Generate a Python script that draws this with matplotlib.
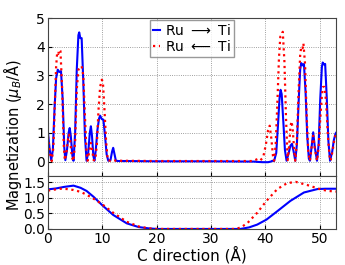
import numpy as np
import matplotlib
matplotlib.use('Agg')
import matplotlib.pyplot as plt

# magnetization along C
# top panel: Ru -> Ti (blue)
x_fwd = [0.0, 0.3, 0.6, 0.9, 1.2, 1.5, 1.8, 2.1, 2.4, 2.7, 3.0, 3.2, 3.5, 3.8, 4.0, 4.2,
         4.5, 4.7, 5.0, 5.3, 5.6, 5.75, 5.95, 6.2, 6.5, 6.8, 7.1, 7.4, 7.7, 7.9, 8.1,
         8.35, 8.55, 8.8, 9.1, 9.4, 9.6, 9.9, 10.2, 10.5, 10.8, 11.1, 11.5, 11.8, 12.0,
         12.2, 12.5, 13.0, 14.0, 20.0, 30.0, 38.0, 38.5, 39.5, 40.5, 41.0, 41.3, 41.6,
         42.0, 42.3, 42.6, 42.8, 43.0, 43.3, 43.6, 43.9, 44.3, 44.6, 44.9, 45.2, 45.5,
         45.8, 46.1, 46.4, 46.6, 46.85, 47.1, 47.4, 47.7, 48.0, 48.2, 48.5, 48.8, 49.1,
         49.5, 49.8, 50.1, 50.4, 50.55, 50.8, 51.0, 51.3, 51.6, 51.9, 52.3, 52.6, 52.9, 53.0]
m_fwd = [1.02, 0.45, 0.05, 0.4, 1.8, 2.9, 3.2, 3.12, 3.15, 2.2, 0.5, 0.05, 0.4, 1.0, 1.17, 0.9,
         0.2, 0.03, 1.0, 3.2, 4.4, 4.5, 4.3, 4.3, 2.8, 0.9, 0.03, 0.3, 1.0, 1.23, 0.9,
         0.2, 0.03, 0.4, 1.1, 1.5, 1.6, 1.48, 1.46, 0.9, 0.25, 0.03, 0.05, 0.35, 0.48,
         0.3, 0.03, 0.02, 0.02, 0.01, 0.01, 0.0, -0.01, -0.02, -0.02, 0.0, 0.03, 0.02,
         0.3, 1.2, 2.2, 2.5, 2.35, 1.4, 0.4, 0.03, 0.3, 0.55, 0.62, 0.35, 0.03,
         0.6, 2.0, 3.2, 3.43, 3.35, 3.4, 2.4, 0.9, 0.1, 0.03, 0.5, 1.02, 0.5,
         0.03, 0.6, 2.2, 3.3, 3.45, 3.38, 3.4, 2.2, 0.7, 0.03, 0.35, 0.75, 0.97, 1.0]

# top panel: Ru <- Ti (red)
x_bwd = [0.0, 0.3, 0.7, 1.0, 1.3, 1.5, 1.7, 1.9, 2.1, 2.3, 2.6, 2.9, 3.1, 3.4, 3.7, 3.9,
         4.1, 4.4, 4.7, 5.0, 5.3, 5.6, 5.9, 6.2, 6.5, 6.8, 7.1, 7.3, 7.6, 7.9, 8.1, 8.4,
         8.7, 9.0, 9.3, 9.6, 9.9, 10.1, 10.4, 10.7, 11.0, 11.5, 12.0, 12.5, 13.0, 20.0,
         30.0, 37.5, 38.2, 38.7, 39.1, 39.6, 40.1, 40.5, 40.8, 41.1, 41.4, 41.6, 41.9,
         42.2, 42.5, 42.75, 43.0, 43.2, 43.5, 43.8, 44.1, 44.4, 44.6, 44.8, 45.0, 45.3,
         45.5, 45.8, 46.1, 46.4, 46.6, 46.85, 47.0, 47.3, 47.6, 47.9, 48.2, 48.5, 48.8,
         49.1, 49.5, 49.8, 50.1, 50.4, 50.6, 50.9, 51.2, 51.5, 51.8, 52.0, 52.4, 52.7, 53.0]
m_bwd = [0.88, 0.35, 0.02, 0.5, 2.2, 3.3, 3.8, 3.75, 3.9, 3.85, 2.6, 0.6, 0.05, 0.3, 0.8, 0.94,
         0.7, 0.15, 0.02, 0.7, 2.5, 3.2, 3.3, 3.32, 3.0, 1.6, 0.3, 0.03, 0.35, 0.65, 0.45, 0.05,
         0.05, 0.6, 1.8, 2.6, 2.85, 2.8, 1.8, 0.7, 0.05, 0.03, 0.06, 0.03, 0.03, 0.02,
         0.02, 0.02, 0.06, 0.1, 0.05, 0.15, 0.6, 1.1, 1.25, 0.8, 0.2, 0.03, 0.6,
         2.0, 3.6, 4.35, 4.4, 4.52, 3.5, 1.5, 0.05, 0.6, 1.2, 1.4, 1.2, 0.4,
         0.03, 0.7, 2.4, 3.7, 4.0, 3.95, 4.12, 3.4, 1.6, 0.3, 0.03, 0.5, 0.9,
         0.45, 0.03, 0.5, 1.5, 2.3, 2.6, 2.6, 2.0, 0.9, 0.2, 0.03, 0.4, 0.8, 0.95]

# bottom panel (smoothed)
xs_fwd = [0, 1.5, 3, 4.7, 6, 7.1, 8.4, 10, 12, 14.5, 16.7, 18.5, 20, 35.4, 37, 38.5,
          40.2, 42.2, 44.6, 47.1, 49.6, 51, 53]
ms_fwd = [1.27, 1.3, 1.35, 1.39, 1.32, 1.22, 1.03, 0.76, 0.45, 0.18, 0.06, 0.02, 0.0, 0.0,
          0.05, 0.14, 0.30, 0.57, 0.9, 1.17, 1.28, 1.29, 1.29]
xs_bwd = [0, 2.2, 3.5, 4.7, 6, 7.1, 8.4, 10, 12, 14.5, 16.7, 18.5, 20, 34.5, 35.5, 36.7,
          38.5, 40.2, 42.2, 44, 45.6, 47.7, 50.2, 51.5, 53]
ms_bwd = [1.23, 1.29, 1.28, 1.25, 1.19, 1.1, 0.97, 0.79, 0.52, 0.23, 0.08, 0.02, 0.0, 0.0,
          0.05, 0.19, 0.52, 0.9, 1.28, 1.47, 1.51, 1.41, 1.27, 1.22, 1.2]

labels = ['Ru $\\longrightarrow$ Ti', 'Ru $\\longleftarrow$ Ti']

fig = plt.figure(figsize=(3.45, 2.65), dpi=100)
ax1 = fig.add_axes([0.139, 0.336, 0.835, 0.596])
ax2 = fig.add_axes([0.139, 0.136, 0.835, 0.200])

ax1.plot(x_fwd, m_fwd, color='blue', lw=1.5, label=labels[0])
ax1.plot(x_bwd, m_bwd, color='red', lw=1.6, ls=':', label=labels[1])
ax2.plot(xs_fwd, ms_fwd, color='blue', lw=1.5)
ax2.plot(xs_bwd, ms_bwd, color='red', lw=1.6, ls=':')

for ax in (ax1, ax2):
    ax.set_xlim(0, 53)
    ax.set_xticks(np.arange(0, 51, 10))
    ax.grid(True, color='gray', ls=':', lw=0.6)
    ax.tick_params(direction='in', length=3, labelsize=10, pad=2)
    for s in ax.spines.values():
        s.set_color('#444444')

ax1.set_ylim(-0.5, 5)
ax1.set_yticks(range(6))
ax1.set_xticklabels([])
ax2.set_ylim(0, 1.7)
ax2.set_yticks([0.0, 0.5, 1.0, 1.5])
ax2.set_yticklabels(['0.0', '0.5', '1.0', '1.5'])
ax2.set_xlabel('C direction (Å)', fontsize=11, labelpad=0)

leg = ax1.legend(loc='upper center', fontsize=10, handlelength=0.5, handletextpad=0.4,
                 borderpad=0.2, labelspacing=0.1, fancybox=False, borderaxespad=0.15)
leg.get_frame().set_edgecolor('gray')

fig.text(0.036, 0.49, 'Magnetization ($\\mu_B$/Å)', rotation=90, fontsize=10.5,
         ha='center', va='center')

plt.savefig('out.png', dpi=100)
